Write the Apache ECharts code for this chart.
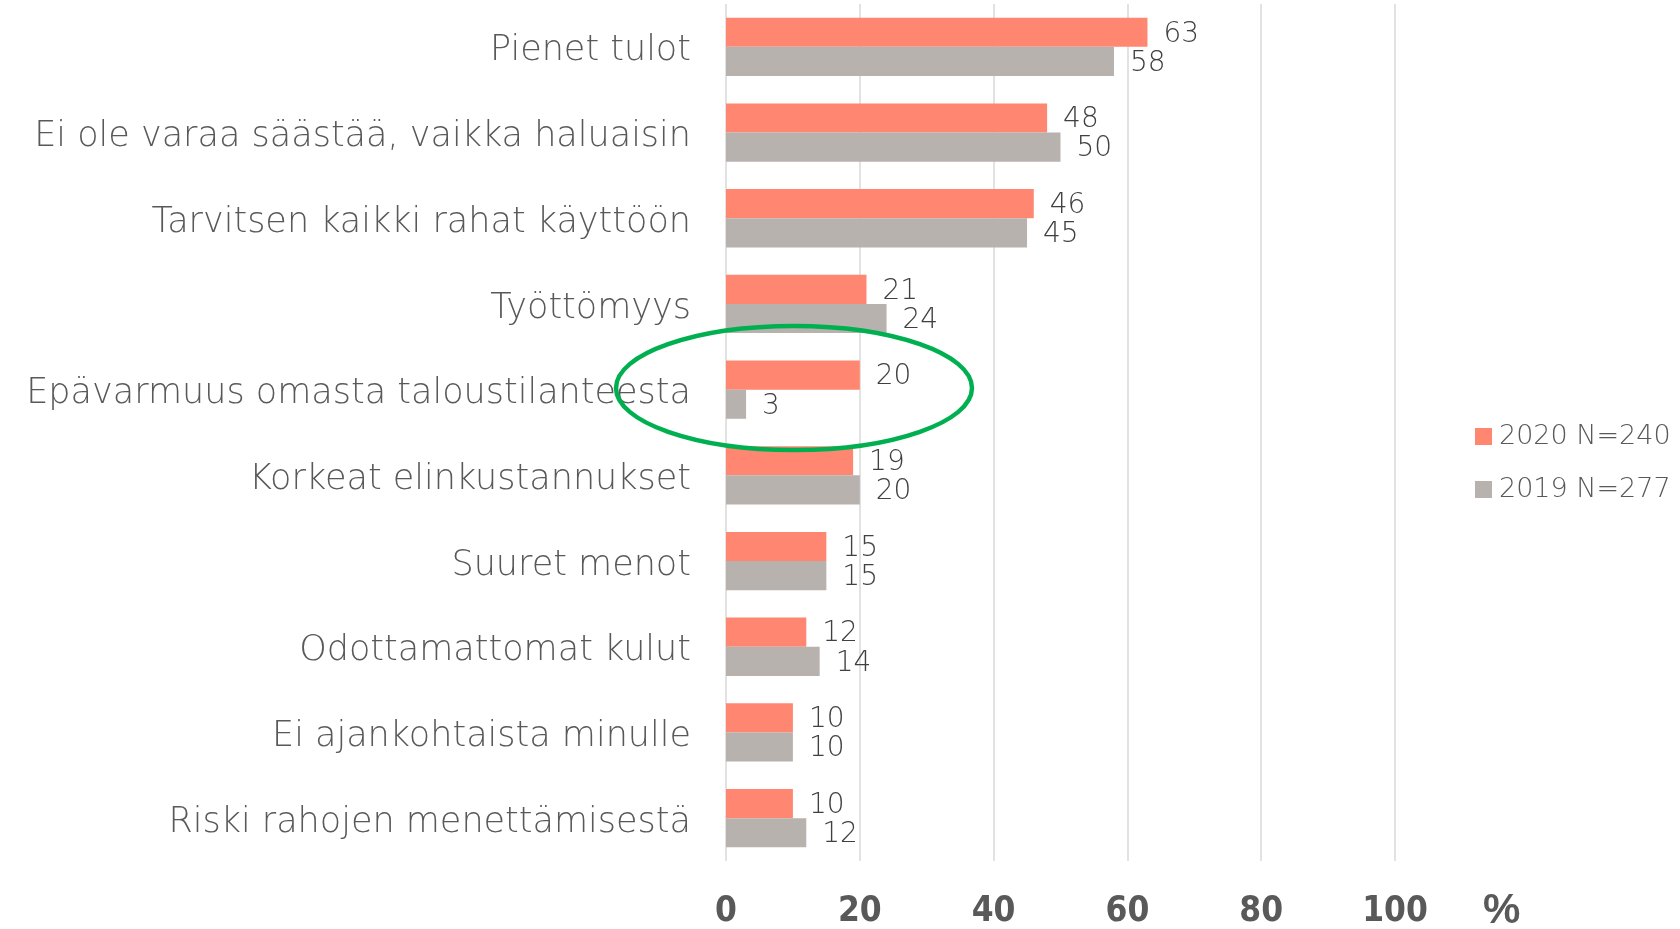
<!DOCTYPE html>
<html lang="fi">
<head>
    <meta charset="UTF-8">
    <title>Säästämisen esteet</title>
    <script src="https://cdn.jsdelivr.net/npm/echarts@6/dist/echarts.min.js"></script>
</head>
<style>
    html, body { margin: 0; padding: 0; background: #fff; }
    #main { width: 1680px; height: 929px; }
</style>
<body>
<div id="main"></div>
<script>
    // kategoriat ylhäältä alas
    var categories = ['Pienet tulot', 'Ei ole varaa säästää, vaikka haluaisin', 'Tarvitsen kaikki rahat käyttöön',
        'Työttömyys', 'Epävarmuus omasta taloustilanteesta', 'Korkeat elinkustannukset', 'Suuret menot',
        'Odottamattomat kulut', 'Ei ajankohtaista minulle', 'Riski rahojen menettämisestä'];
    var values2020 = [63, 48, 46, 21, 20, 19, 15, 12, 10, 10];
    var values2019 = [58, 50, 45, 24, 3, 20, 15, 14, 10, 12];
    var seriesNames = ['2020 N=240', '2019 N=277'];
    var xTicks = [0, 20, 40, 60, 80, 100];

    var font = '"DejaVu Sans", Lato, sans-serif';
    var labelStyle = {
        show: true,
        position: 'right',
        distance: 16,
        offset: [0, 2],
        color: '#404040',
        fontFamily: font,
        fontWeight: 200,
        fontSize: 28
    };

    var myChart = echarts.init(document.getElementById('main'));
    var option = {
        animation: false,
        grid: { left: 726, right: 285, top: 4, bottom: 68, containLabel: false },
        legend: {
            orient: 'vertical',
            left: 1470,
            top: 418,
            itemWidth: 17,
            itemHeight: 17,
            itemGap: 26,
            icon: 'rect',
            textStyle: { color: '#595959', fontFamily: font, fontWeight: 200, fontSize: 27, padding: [0, 0, 0, 2] },
            data: seriesNames
        },
        xAxis: {
            type: 'value',
            min: xTicks[0],
            max: xTicks[xTicks.length - 1],
            interval: 20,
            axisLine: { show: false },
            axisTick: { show: false },
            splitLine: { show: true, lineStyle: { color: '#d9d9d9', width: 1.5 } },
            axisLabel: {
                margin: 33,
                color: '#595959',
                fontFamily: '"Liberation Sans Narrow", "DejaVu Sans Condensed", sans-serif',
                fontWeight: 'bold',
                fontSize: 35
            }
        },
        yAxis: {
            type: 'category',
            inverse: true,
            data: categories,
            axisLine: { show: false },
            axisTick: { show: false },
            axisLabel: {
                margin: 35,
                verticalAlign: 'top',
                lineHeight: 9,
                color: '#595959',
                fontFamily: font,
                fontWeight: 200,
                fontSize: 35
            }
        },
        series: [
            {
                name: seriesNames[0],
                type: 'bar',
                data: values2020,
                barGap: '0%',
                barCategoryGap: '32%',
                itemStyle: { color: '#ff8670' },
                label: labelStyle
            },
            {
                name: seriesNames[1],
                type: 'bar',
                data: values2019,
                itemStyle: { color: '#b8b2af' },
                label: labelStyle
            }
        ],
        graphic: [
            {
                type: 'text',
                left: 1483,
                top: 890,
                style: {
                    text: '%',
                    fill: '#595959',
                    font: 'bold 42px "Liberation Sans Narrow", sans-serif'
                }
            },
            {
                type: 'ellipse',
                z: 100,
                shape: { cx: 794, cy: 388, rx: 178, ry: 62 },
                style: { fill: 'none', stroke: '#00b050', lineWidth: 4.5 }
            }
        ]
    };
    myChart.setOption(option);
</script>
</body>
</html>
